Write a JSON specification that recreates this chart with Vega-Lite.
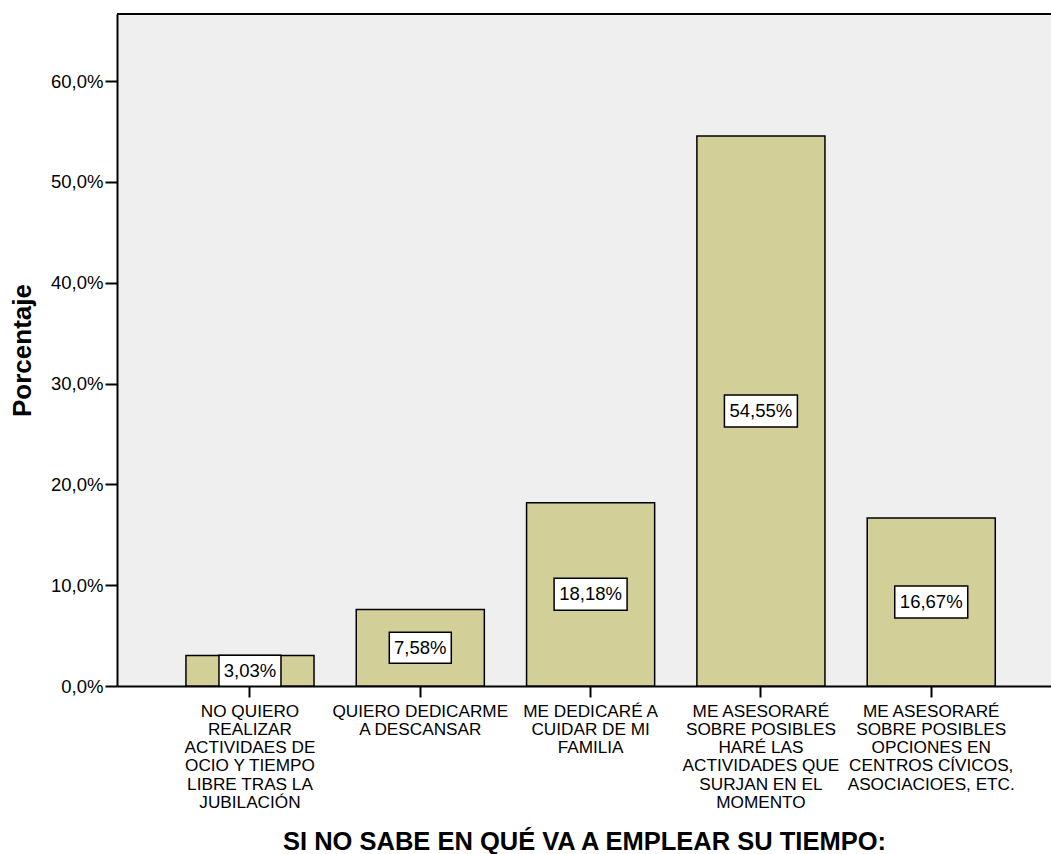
{
  "$schema": "https://vega.github.io/schema/vega-lite/v6.json",
  "width": 934,
  "height": 672,
  "autosize": {"type": "none"},
  "padding": {"left": 117, "top": 14, "right": 0, "bottom": 168},
  "background": "white",
  "data": {
    "values": [
      {"cat": "NO QUIERO|REALIZAR|ACTIVIDAES DE|OCIO Y  TIEMPO|LIBRE TRAS LA|JUBILACIÓN", "pct": 3.03, "label": "3,03%"},
      {"cat": "QUIERO DEDICARME|A  DESCANSAR", "pct": 7.58, "label": "7,58%"},
      {"cat": "ME DEDICARÉ A|CUIDAR DE MI|FAMILIA", "pct": 18.18, "label": "18,18%"},
      {"cat": "ME ASESORARÉ|SOBRE POSIBLES|HARÉ LAS|ACTIVIDADES QUE|SURJAN EN EL|MOMENTO", "pct": 54.55, "label": "54,55%"},
      {"cat": "ME ASESORARÉ|SOBRE POSIBLES|OPCIONES EN|CENTROS CÍVICOS,|ASOCIACIOES, ETC.", "pct": 16.67, "label": "16,67%"}
    ]
  },
  "encoding": {
    "x": {
      "field": "cat",
      "type": "nominal",
      "sort": null,
      "scale": {"paddingInner": 0.248, "paddingOuter": 0.366, "align": 0.553},
      "axis": {
        "title": "SI NO SABE EN QUÉ VA A EMPLEAR SU TIEMPO:",
        "titleFontSize": 25.5,
        "titleFontWeight": "bold",
        "titleY": 163,
        "titleBaseline": "alphabetic",
        "labelExpr": "split(datum.label, '|')",
        "labelAngle": 0,
        "labelFontSize": 17.2,
        "labelLineHeight": 18.3,
        "labelBaseline": "top",
        "labelPadding": 5,
        "tickSize": 11,
        "labelLimit": 300
      }
    }
  },
  "layer": [
    {
      "mark": {"type": "bar", "fill": "#d3cf98", "stroke": "black", "strokeWidth": 1.5},
      "encoding": {
        "y": {
          "field": "pct",
          "type": "quantitative",
          "scale": {"domain": [0, 66.65], "nice": false},
          "axis": {
            "title": "Porcentaje",
            "titleFontSize": 26,
            "titleFontWeight": "bold",
            "titleX": -95,
            "titleBaseline": "middle",
            "values": [0, 10, 20, 30, 40, 50, 60],
            "labelExpr": "replace(format(datum.value, '.1f'), '.', ',') + '%'",
            "labelFontSize": 18.5,
            "labelPadding": 2,
            "tickSize": 12
          }
        }
      }
    },
    {
      "mark": {"type": "rule", "color": "black", "strokeWidth": 2},
      "encoding": {
        "x": null,
        "y": {"datum": 66.65, "type": "quantitative", "scale": {"domain": [0, 66.65], "nice": false}, "axis": null}
      }
    },
    {
      "mark": {"type": "point", "filled": true, "fill": "white", "stroke": "black", "strokeWidth": 1.5, "opacity": 1},
      "encoding": {
        "y": {"field": "pct", "type": "quantitative", "scale": {"domain": [0, 133.3], "nice": false}, "axis": null},
        "shape": {
          "condition": {"test": "datum.pct < 10", "value": "M-1,-0.5L1,-0.5L1,0.5L-1,0.5Z"},
          "value": "M-1,-0.438L1,-0.438L1,0.438L-1,0.438Z"
        },
        "size": {"condition": {"test": "datum.pct < 10", "value": 3844}, "value": 5329}
      }
    },
    {
      "mark": {"type": "text", "font": "Liberation Sans", "fontSize": 18.5, "color": "black", "align": "center", "baseline": "middle"},
      "encoding": {
        "y": {"field": "pct", "type": "quantitative", "scale": {"domain": [0, 133.3], "nice": false}, "axis": null},
        "text": {"field": "label"}
      }
    }
  ],
  "resolve": {"scale": {"y": "independent"}},
  "config": {
    "view": {"fill": "#efefef", "stroke": null},
    "axis": {
      "domainColor": "black",
      "domainWidth": 2,
      "tickColor": "black",
      "tickWidth": 2,
      "labelColor": "black",
      "titleColor": "black",
      "labelFont": "Liberation Sans",
      "titleFont": "Liberation Sans",
      "grid": false
    }
  }
}
